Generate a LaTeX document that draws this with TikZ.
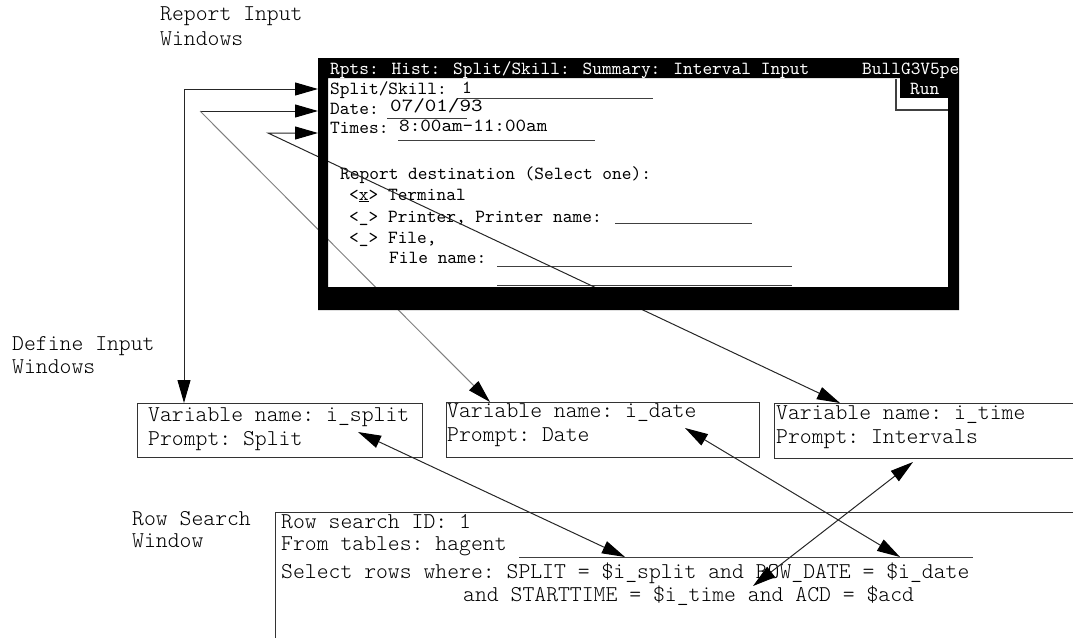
\documentclass[tikz,border=0pt]{standalone}
\usepackage{fontspec}
\usepackage{graphicx}
\setmonofont{lmmonolt10-regular.otf}
\newfontfamily\scrfont{lmmono10-regular.otf}
\usetikzlibrary{arrows.meta}
\begin{document}
\begin{tikzpicture}[x=1pt,y=-1pt,
  big/.style={font=\ttfamily\fontsize{22.6}{26}\selectfont, inner sep=0pt, anchor=base west},
  scr/.style={font=\scrfont\fontsize{18.5}{21}\selectfont, inner sep=0pt, anchor=base west},
  conn/.style={line width=1pt, draw=black!85},
  lightconn/.style={line width=1pt, draw=black!50},
  tip/.style={-{Triangle[length=23pt,width=13pt,color=black]}},
  tips/.style={{Triangle[length=23pt,width=13pt,color=black]}-{Triangle[length=23pt,width=13pt,color=black]}},
  boxline/.style={line width=1pt, draw=black!80},
  uline/.style={line width=0.9pt, draw=black!75}
]
\useasboundingbox (0,0) rectangle (1073,637);

% ---- labels
\node[big] (lab1a) at (160,20) {Report Input};
\node[big] (lab1b) at (160,45) {Windows};
\node[big] (lab2a) at (12,350) {Define Input};
\node[big] (lab2b) at (12,373) {Windows};
\node[big] (lab3a) at (132,525) {Row Search};
\node[big] (lab3b) at (132,547) {Window};

% ---- screen interior text
\node[scr] (sSplit) at (330,94) {Split/Skill:};
\node[scr] (vSplit) at (462,93) {1};
\draw[uline] (457,98) -- (653,98);
\node[scr] (sDate) at (330,114) {Date:};
\node[scr] (vDate) at (390,111) {\scalebox{1.19}[1]{07/01/93}};
\draw[uline] (387,118) -- (467,118);
\node[scr] (sTimes) at (330,133) {Times:};
\node[scr] (vTimes) at (399,131) {\scalebox{1.09}[1]{8:00am-11:00am}};
\draw[uline] (398,140) -- (595,140);
\node[scr] (sDest) at (340,179) {Report destination (Select one):};
\node[scr] (sTerm) at (349,200) {<\underline{x}> Terminal};
\node[scr] (sPrin) at (349,222) {<\_> Printer, Printer name:};
\draw[uline] (615,223) -- (752,223);
\node[scr] (sFile) at (349,243) {<\_> File,};
\node[scr] (sFname) at (389,263) {File name:};
\draw[uline] (497,266) -- (792,266);
\draw[uline] (497,285.5) -- (792,285.5);

% ---- define input windows
\node[draw, boxline, minimum width=285pt, minimum height=54pt, anchor=north west, inner sep=0pt] (vbox1) at (137,403) {};
\node[big] (v1a) at (148,421.5) {Variable name: i\_split};
\node[big] (v1b) at (148,445) {Prompt: Split};
\node[draw, boxline, minimum width=313pt, minimum height=55pt, anchor=north west, inner sep=0pt] (vbox2) at (446,402) {};
\node[big] (v2a) at (447,417) {Variable name: i\_date};
\node[big] (v2b) at (447,441) {Prompt: Date};
\draw[boxline] (1075,403) -- (774,403) -- (774,458) -- (1075,458);
\node[big] (v3a) at (776,419) {Variable name: i\_time};
\node[big] (v3b) at (776,443) {Prompt: Intervals};

% ---- row search window
\draw[boxline] (1075,512) -- (275,512) -- (275,640);
\node[big] (r1) at (281,528) {Row search ID: 1};
\node[big] (r2) at (281,550) {From tables: hagent};
\draw[uline] (519,557) -- (973,557);
\node[big] (r3) at (281,578) {Select rows where: SPLIT = \$i\_split and ROW\_DATE = \$i\_date};
\node[big] (r4) at (463,601) {and STARTTIME = \$i\_time and ACD = \$acd};

% ---- connector end points
\coordinate (splitIn) at (318,89);
\coordinate (splitCorner) at (184,89);
\coordinate (splitOut) at (184,403);
\coordinate (dateIn) at (318,111);
\coordinate (dateCorner) at (200,111);
\coordinate (dateOut) at (490,402);
\coordinate (timeIn) at (318,133);
\coordinate (timeCorner) at (268,133);
\coordinate (timeOut) at (840,403);
\coordinate (splitVar) at (358,432);
\coordinate (splitRow) at (625,557);
\coordinate (dateVar) at (685,428);
\coordinate (dateRow) at (900,557);
\coordinate (timeVar) at (913,462);
\coordinate (timeRow) at (753,586);

% ---- connectors
\draw[conn,tips] (splitIn) -- (splitCorner) -- (splitOut);
\draw[conn,tip] (dateCorner) -- (dateIn);
\draw[lightconn,tip] (dateCorner) -- (dateOut);
\draw[conn,tips] (timeIn) -- (timeCorner) -- (timeOut);
\draw[conn,tips] (splitVar) -- (splitRow);
\draw[conn,tips] (dateVar) -- (dateRow);
\draw[conn,tips] (timeVar) -- (timeRow);

% ---- screen frame (drawn over the connectors)
\fill[black, even odd rule] (318,58) rectangle (959,310) (328,78) rectangle (948,287);
\fill[black] (900,78) rectangle (948,98);
\draw[line width=1.5pt, draw=black!75] (896,79) -- (896,110) -- (948,110);
\node[scr, text=white] (title) at (330,74) {Rpts: Hist: Split/Skill: Summary: Interval Input};
\node[scr, text=white] (host) at (862,74) {BullG3V5pe};
\node[scr, text=white] (run) at (910,94) {Run};
\end{tikzpicture}
\end{document}
